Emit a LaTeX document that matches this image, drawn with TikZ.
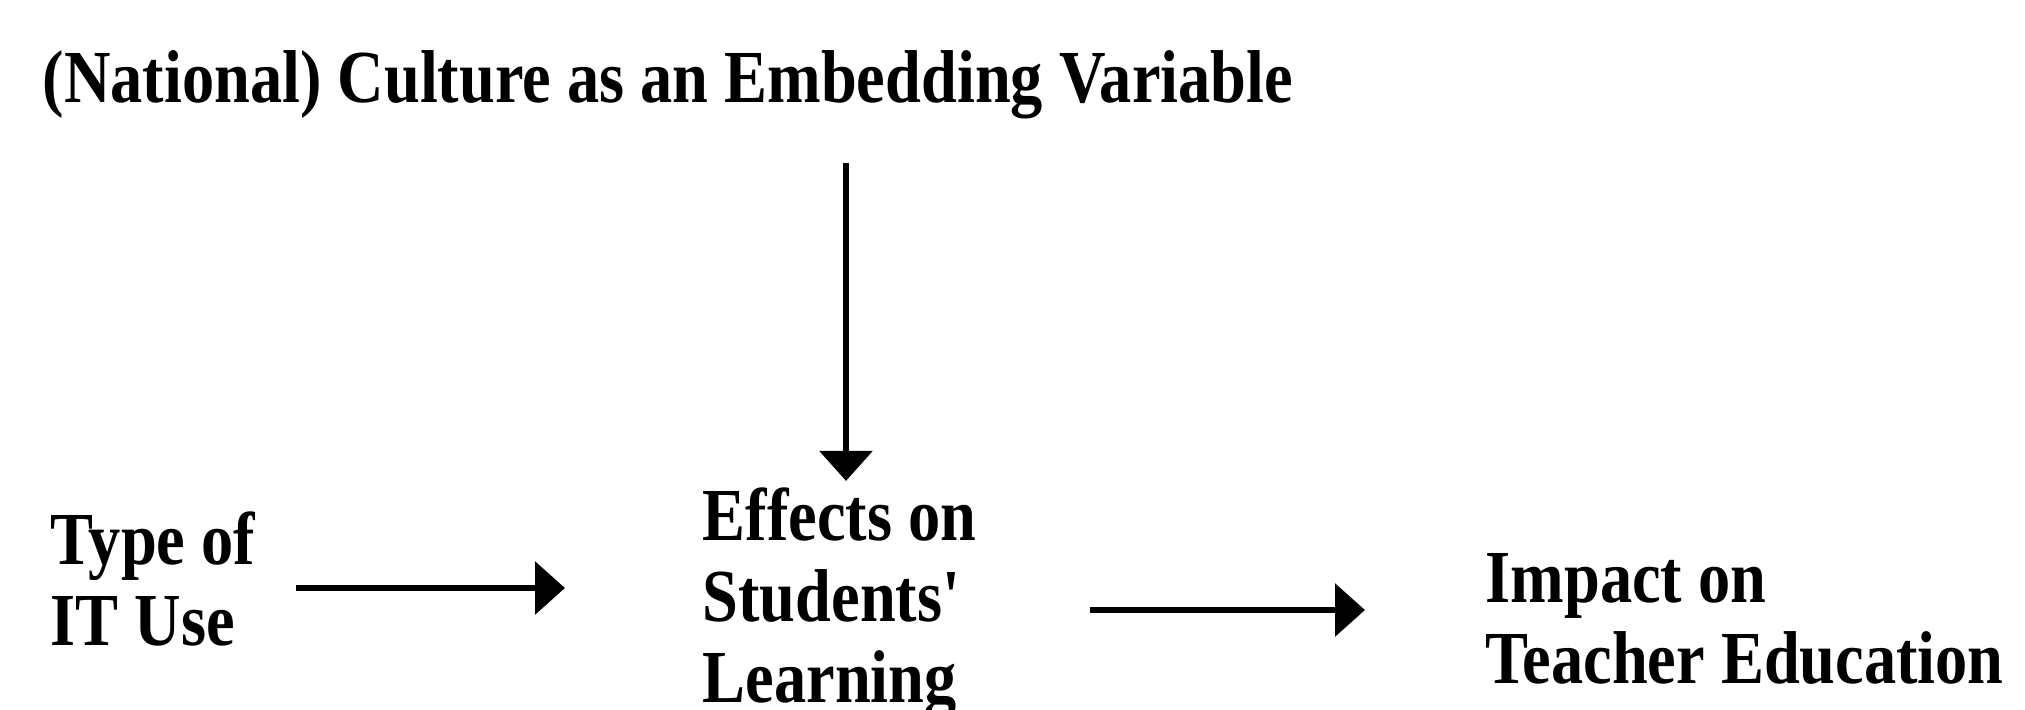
\documentclass[tikz,border=0pt]{standalone}
\usepackage{fontspec}
\newfontfamily\diagfont[FakeStretch=0.86]{Liberation Serif}
\usetikzlibrary{arrows.meta}

\begin{document}
\begin{tikzpicture}
    \useasboundingbox (0,0) rectangle (20.25,-7.09);
    \begin{scope}[every node/.style={inner sep=0pt, align=left, font=\diagfont\bfseries\fontsize{21.3}{23}\selectfont}]
        \node[anchor=base west] (culture) at (0.42,-1.02) {(National) Culture as an Embedding Variable};
        \node[anchor=base west] (type) at (0.50,-6.45) {Type of\\IT Use};
        \node[anchor=base west] (effects) at (7.02,-7.02) {Effects on\\Students\textquotesingle\\Learning};
        \node[anchor=base west] (impact) at (14.85,-6.83) {Impact on\\Teacher Education};
    \end{scope}

    \coordinate (drop) at (8.46,-1.63);

    \begin{scope}[every edge/.style={draw, line width=1.8pt, -{Triangle[length=3mm, width=5.2mm]}}]
        \path (drop) edge[shorten >=0.6mm] (drop |- effects.north);
        \path (type.east |- 0,-5.88) edge[shorten <=4mm, shorten >=13.7mm] (effects.west |- 0,-5.88);
        \path (effects.east |- 0,-6.10) edge[shorten <=11.3mm, shorten >=12mm] (impact.west |- 0,-6.10);
    \end{scope}
\end{tikzpicture}
\end{document}
